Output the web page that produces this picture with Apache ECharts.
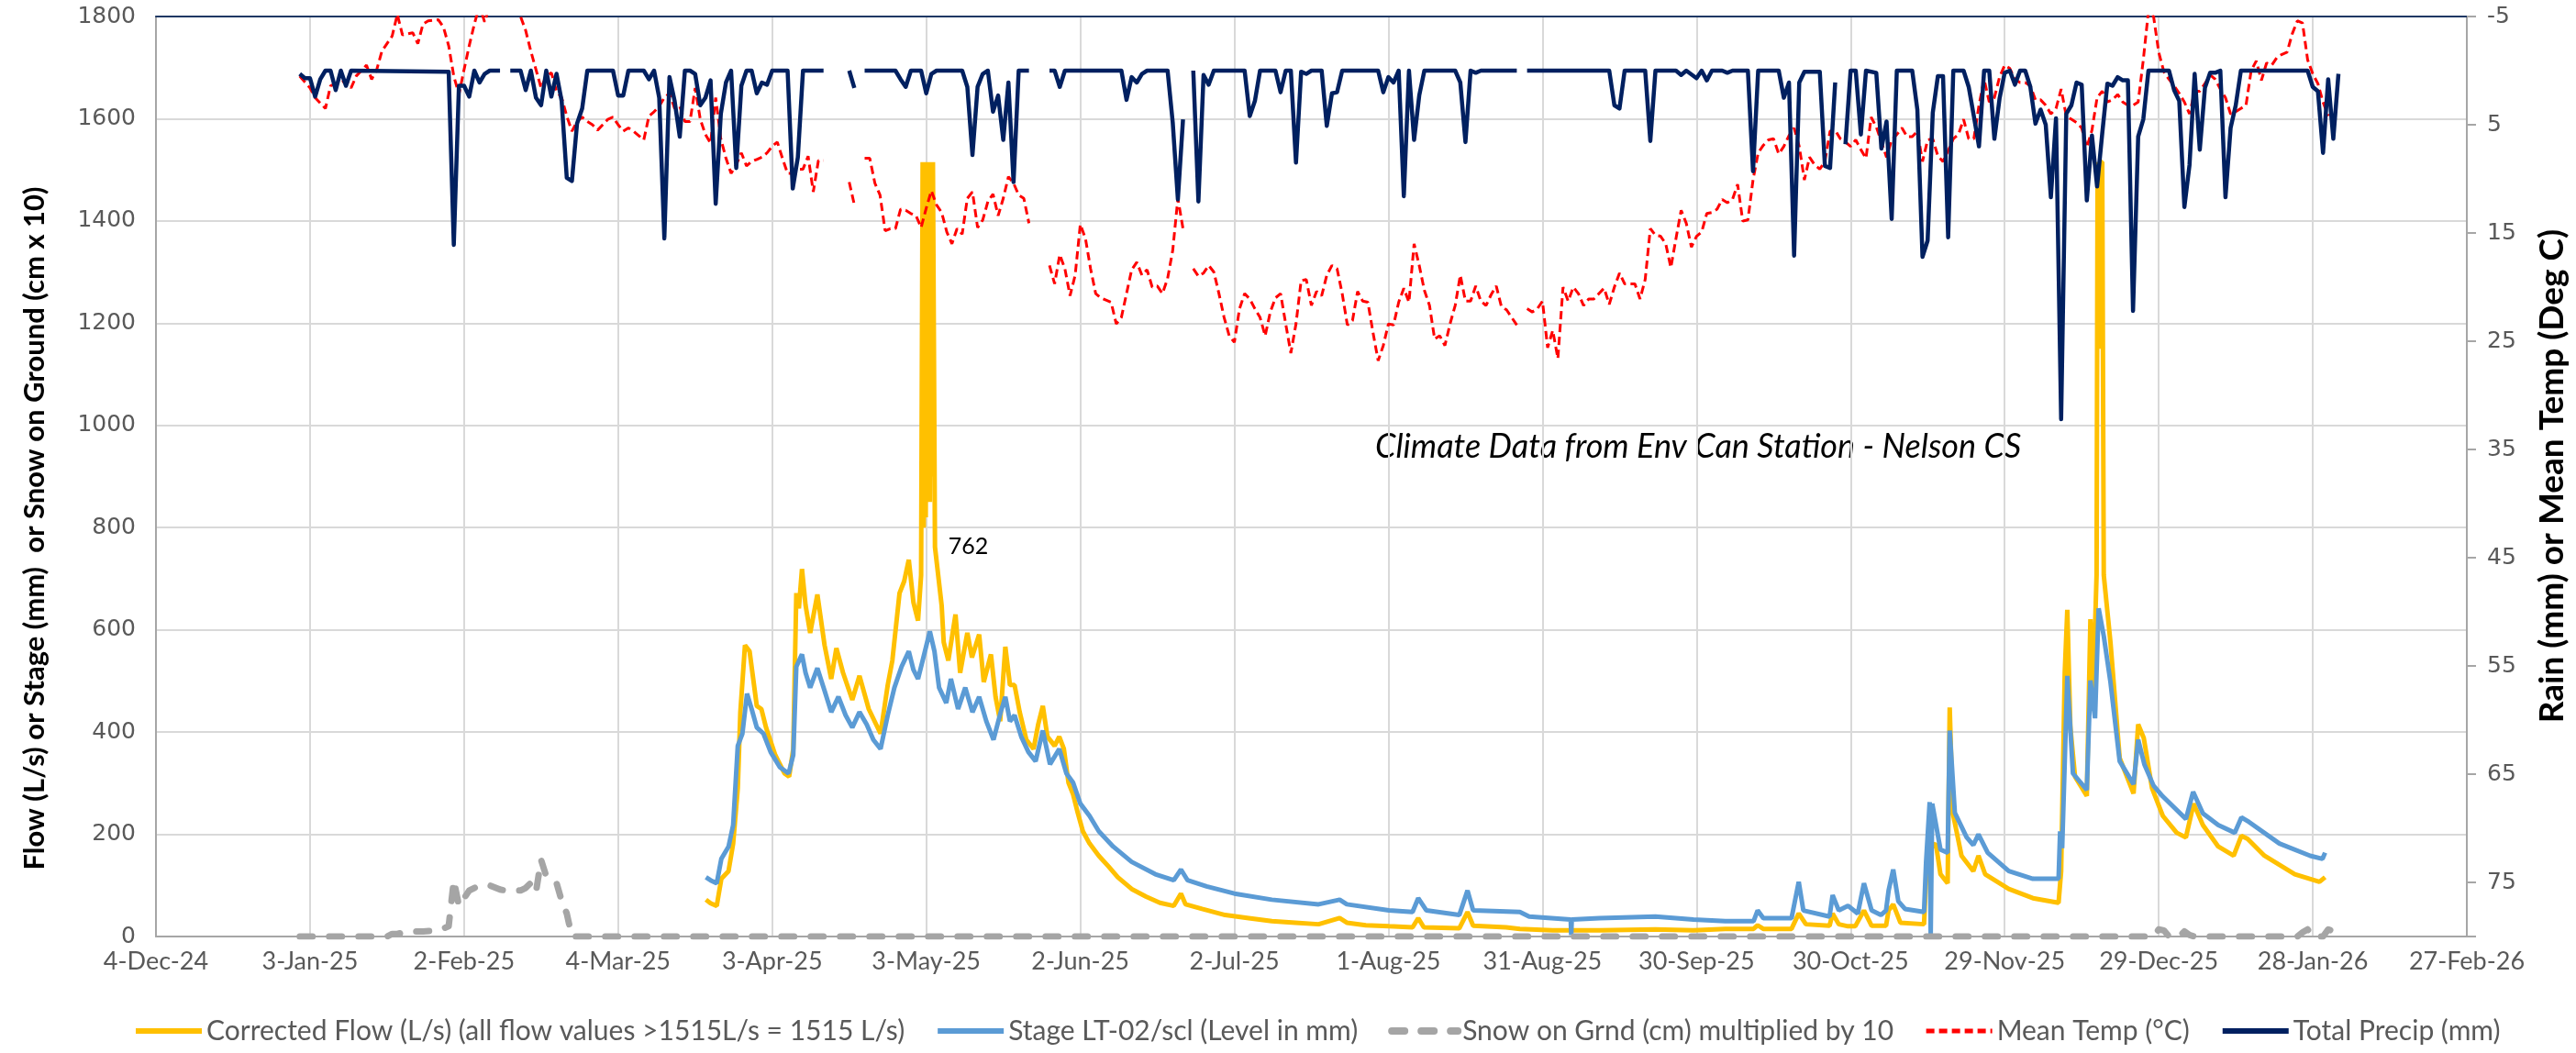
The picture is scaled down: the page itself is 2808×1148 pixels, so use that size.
<!DOCTYPE html>
<html>
<head>
<meta charset="utf-8">
<script src="https://cdn.jsdelivr.net/npm/echarts@6.0.0/dist/echarts.min.js"></script>
<style>
  html, body { margin: 0; padding: 0; background: #fff; }
  #chart { width: 2808px; height: 1148px; }
</style>
</head>
<body>
<div id="chart"></div>
<script>
// x values are days counted from 4-Dec-24
const startDate = Date.UTC(2024, 11, 4)
const monthNames = ['Jan', 'Feb', 'Mar', 'Apr', 'May', 'Jun', 'Jul', 'Aug', 'Sep', 'Oct', 'Nov', 'Dec']

const legendNames = [
  'Corrected Flow (L/s) (all flow values >1515L/s = 1515 L/s)',
  'Stage LT-02/scl (Level in mm)',
  'Snow on Grnd (cm) multiplied by 10',
  'Mean Temp (°C)',
  'Total Precip (mm)'
]

// [day, L/s]
const flow = [
  [107.1,72],[108,65],[109.2,60],[110.1,113],[111.5,128],[112.4,182],[113.3,290],[113.8,439],[114.7,570],[115.6,558],
  [117,451],[117.9,445],[118.8,409],[120.6,355],[122.4,319],[123.3,313],[124.1,367],[124.7,672],[125.2,642],[125.8,719],
  [126.5,648],[127.4,594],[128.8,669],[130.2,570],[131.5,504],[132.5,564],[133.8,516],[135.6,463],[137,510],[138.8,445],
  [141.1,397],[142.5,492],[143.4,540],[144.8,672],[145.7,695],[146.6,737],[147.5,654],[148.4,618],[149,707],
  [149.3,1515],[149.5,800],[149.7,1515],[149.9,820],[150.1,1515],[150.3,900],[150.5,1515],[150.7,850],[150.9,1515],
  [151.1,900],[151.3,1515],[151.5,1515],[151.7,762],
  [153,648],[153.4,576],[154.3,540],[155.7,630],[156.6,516],[158,594],[158.9,546],[160.3,591],[161.2,498],[162.6,552],
  [163.5,469],[164.4,421],[165.4,567],[166.3,492],[167.2,492],[168.2,439],[169.5,385],[170.9,367],[171.8,415],[172.7,451],
  [173.6,391],[175,373],[175.9,391],[176.8,367],[177.7,301],[178.6,278],[179.5,242],[180.5,206],[181.8,182],[183.6,158],
  [185.5,137],[187.3,116],[190,93],[192.8,78],[195.5,66],[198.2,60],[199.6,84],[200.5,63],[203.7,54],[208.2,42],
  [212.8,36],[217.3,30],[221.9,27],[226.4,24],[230.5,36],[231.9,27],[235.6,22],[240.1,20],[244.7,18],[245.8,36],
  [246.9,18],[253.8,16],[255.4,48],[256.5,21],[262.9,18],[265.6,15],[272,12],[281.1,12],[292,14],[299.4,12],
  [305.6,15],[311.1,15],[311.9,22],[313,15],[318.5,15],[319.9,45],[321.3,24],[325.9,21],[326.5,45],[327.7,24],
  [329.5,20],[330.9,20],[332.6,51],[334.1,21],[336.9,21],[337.4,51],[338.3,63],[339.7,27],[344.3,24],[344.7,110],
  [345.4,170],[346.6,182],[347.5,122],[348.9,104],[349.3,448],[349.9,242],[351.6,158],[353.9,128],[354.9,158],[356.2,122],
  [360.8,93],[365.5,75],[370.5,66],[371,128],[371.7,516],[372.2,639],[372.8,409],[373.7,313],[376,275],[376.7,621],
  [377.2,469],[377.9,707],[378.1,1515],[378.4,1150],[378.6,1515],[379,1515],[379.3,707],
  [380.6,576],[382.4,349],[385.1,280],[386,415],[387.1,388],[388.7,290],[390.8,236],[393.5,203],[395.3,194],[396.8,260],
  [398.6,218],[401.6,176],[404.6,158],[406.1,197],[407.3,191],[410.6,158],[416.5,122],[421.3,107],[422.4,116]
]

// [day, mm]
const stage = [
  [107.1,116],[108,110],[109.2,104],[110.1,152],[111.5,176],[112.4,218],[113.3,373],[114.2,397],[115.1,475],[116,445],
  [117,409],[118.3,397],[119.7,361],[121.5,331],[123.2,319],[124.1,355],[124.7,528],[125.8,552],[126.5,516],[127.4,487],
  [128.8,525],[130.2,481],[131.5,439],[132.9,469],[134.3,433],[135.6,409],[137,439],[138.4,415],[139.7,385],[141.1,367],
  [142.5,433],[143.8,487],[145.2,528],[146.6,558],[147.5,522],[148.4,504],[149.3,540],[150.7,597],[151.6,558],[152.5,487],
  [153.9,457],[154.8,504],[156.2,445],[157.6,487],[159,439],[160.3,469],[161.7,421],[163.1,385],[164.5,439],[165.4,469],
  [166.3,421],[167.2,433],[168.5,391],[169.9,361],[171.3,343],[172.7,403],[174.1,337],[175.9,367],[177.3,319],[178.6,301],
  [180,260],[181.8,236],[183.6,206],[186.4,176],[190,146],[194.6,122],[198.2,110],[199.6,131],[200.9,110],[204.6,98],
  [210,84],[217.3,72],[226.4,63],[230.5,72],[231.9,63],[240.1,51],[244.7,48],[245.8,75],[247.4,51],[253.8,42],
  [255.4,90],[256.5,51],[265.6,48],[267.4,39],[275.5,33],[275.6,3],[275.7,33],[281.1,36],[292,39],[299.4,33],
  [305.6,30],[311.1,30],[311.9,51],[313,36],[318.5,36],[319.9,107],[320.8,51],[325.9,39],[326.5,81],[327.7,51],
  [329.5,60],[331.4,45],[332.6,104],[334.1,51],[335.9,42],[336.9,51],[337.4,90],[338.3,131],[339.3,69],[340.6,54],
  [344.3,48],[344.7,146],[345.4,263],[345.6,5],[345.9,260],[347.5,170],[348.9,164],[349.3,403],[350.3,242],[352.6,194],
  [353.9,179],[354.9,200],[356.7,164],[360.8,128],[365.5,113],[370.5,113],[370.8,206],[371.2,173],[372.2,510],[373.3,319],
  [376,287],[376.7,501],[377.6,427],[378.3,642],[379.3,588],[380.6,498],[382.4,343],[385.1,298],[386,385],[387.2,337],
  [389,295],[390.8,274],[395.3,230],[396.7,283],[398.6,241],[401.6,218],[404.8,203],[406.1,233],[407.6,224],[413.5,182],
  [419.5,158],[421.9,152],[422.4,164]
]

// [day, cm x 10]
const snow = [
  [28,0],[45,0],[46,5],[47,5],[49,10],[52,10],[55,12],[57,20],[58,110],[59,60],[60,75],[61,90],[62,95],[63,100],
  [65,100],[67,92],[68,90],[71,90],[72,95],[73,105],[74,87],[75,150],[76,118],[77,112],[78,105],[79,70],[80,45],[81,0],
  [389,0],[390,14],[391,12],[392,0],[394,0],[395,10],[396,3],[397,0],[417,0],[418,8],[419,14],[420,0],[422,0],
  [423,14],[424,10],[425,0]
]

// [day, deg C]
const meanTemp = [
  [28,0.5],[30,1.6],[31,2.5],[33,3.5],[34,1.4],[35,1.2],[36,1.1],[37,0.9],[38,1.6],[39,0.5],[41,-0.5],[42,0.8],[43,-0.1],
  [44,-1.8],[46,-3.2],[47,-5.2],[48,-3.3],[50,-3.5],[51,-2.5],[52,-4.3],[53,-4.6],[55,-4.7],[56,-4],[57,-2.3],[58,0.5],
  [59,2.2],[60,-0.1],[61,-2.3],[62,-4.3],[63,-6],[64,-4.5],[65,-6],[66,-8],[67,-10],[68,-9],[69,-7.5],[70,-6],[71,-5],
  [72,-3.7],[73,-1.8],[74,-0.1],[75,1.6],[76,0.5],[77,0.2],[78,1.9],[79,2.5],[80,4.2],[81,5.6],[82,4.7],[83,4.3],[84,4.7],
  [85,5.0],[86,5.5],[87,5],[88,4.5],[89,4.3],[90,5.0],[91,5.6],[92,5.3],[93,5.6],[94,6.0],[95,6.4],[96,4.2],[97,3.8],
  [98,3.3],[99,2.5],[100,2.1],[101,3.5],[102,3.3],[103,4.7],[104,4.7],[105,1.6],[106,4.5],[107,5.9],[108,6.7],[109,2.5],
  [110,6.3],[111,8.1],[112,9.5],[113,8.7],[114,7.6],[115,8.8],[116,8.4],[117,8.2],[118,8.0],[119,7.6],[120,7.0],[121,6.6],
  [122,8.1],[123,9.5],[124,9.5],[125,9.1],[126,9.1],[127,7.9],[128,11.2],[129,8.3],[130,8.3],[131,null],[135,10.3],[136,12.4],
  [137,null],[138,8.1],[139,8.1],[140,10.4],[141,11.5],[142,14.8],[143,14.6],[144,14.6],[145,12.8],[146,12.9],[147,13.2],
  [148,13.4],[149,14.5],[150,12.7],[151,11.1],[152,12.4],[153,13.1],[154,14.9],[155,16],[156,14.6],[157,15.1],[158,11.8],
  [159,11.2],[160,14.5],[161,13.8],[162,12.1],[163,11.4],[164,13.4],[165,11.8],[166,9.8],[167,10.4],[168,11.5],[169,11.8],
  [170,14.1],[171,null],[174,18.0],[175,19.7],[176,17.0],[177,18.3],[178,20.8],[179,18.9],[180,14.2],[181,15.5],[182,18.3],
  [183,20.6],[184,21],[185,21.2],[186,21.4],[187,23.4],[188,22.8],[189,20.6],[190,18.4],[191,17.7],[192,18.9],[193,18.4],
  [194,20],[195,19.9],[196,20.6],[197,19.2],[198,16.6],[199,11.8],[200,14.6],[201,null],[202,18.3],[203,19.0],[204,18.7],
  [205,18],[206,18.6],[207,20.6],[208,22.8],[209,24.5],[210,25.1],[211,22],[212,20.6],[213,21.1],[214,22],[215,22.8],
  [216,24.5],[217,22.3],[218,21],[219,20.6],[220,23.4],[221,26.1],[222,23.4],[223,19.4],[224,19.3],[225,21.7],[226,20.4],
  [227,20.8],[228,18.9],[229,18],[230,18.3],[231,20.6],[232,23.5],[233,23.1],[234,20.4],[235,21.3],[236,21.4],[237,24.2],
  [238,26.8],[239,25.4],[240,23.4],[241,23.5],[242,21.4],[243,20.1],[244,21.4],[245,16],[246,18],[247,20.3],[248,21.7],
  [249,24.8],[250,24.5],[251,25.4],[252,23.4],[253,21.7],[254,18.9],[255,21.3],[256,21.3],[257,19.9],[258,21.3],[259,21.7],
  [260,20.7],[261,19.9],[262,21.8],[263,22.1],[264,22.8],[265,23.5],[266,null],[267,22],[268,22.3],[269,22],[270,21.3],
  [271,25.6],[272,24],[273,26.6],[274,20],[275,21.3],[276,20],[277,20.6],[278,21.7],[279,21.1],[280,21.1],[281,20.6],
  [282,20.1],[283,21.6],[284,20],[285,18.7],[286,19.7],[287,19.7],[288,19.7],[289,21.1],[290,19.3],[291,14.6],[292,15.2],
  [293,15.3],[294,16],[295,18.2],[296,15.5],[297,12.9],[298,14.1],[299,16.3],[300,15.3],[301,14.9],[302,13.2],[303,13.1],
  [304,12.8],[305,11.9],[306,12.2],[307,11.9],[308,10.5],[309,13.9],[310,13.8],[311,10.1],[312,7.6],[313,6.9],[314,6.4],
  [315,6.3],[316,7.7],[317,7],[318,6],[319,5.3],[320,7],[321,10.1],[322,8],[323,8.7],[324,9.1],[325,8.4],[326,5.6],
  [327,5.5],[328,6.3],[329,6.6],[330,7],[331,6.4],[332,7.3],[333,8.1],[334,4.3],[335,5.2],[336,6.6],[337,8],[338,6.4],
  [339,5.9],[340,5.3],[341,6.1],[342,6.1],[343,5.6],[344,8.4],[345,6.4],[346,6.3],[347,7.9],[348,8.4],[349,7.4],[350,6.3],
  [351,5.9],[352,4.5],[353,6.3],[354,6.3],[355,3.2],[356,0.8],[357,2.9],[358,2.5],[359,0.6],[360,-0.5],[361,-0.2],
  [362,0.8],[363,1.1],[364,1.1],[365,1.4],[366,2.7],[367,2.7],[368,3.2],[369,4],[370,3.5],[371,1.7],[372,4.2],[373,4.5],
  [374,4.8],[375,5.3],[376,7.1],[377,5.5],[378,2.5],[379,1.9],[380,2.9],[381,2.7],[382,2.2],[383,2.9],[384,3.2],[385,3.2],
  [386,2.9],[387,-1],[388,-5.5],[389,-5],[390,-1.7],[391,0.1],[392,0.8],[393,1.4],[394,2.1],[395,2.9],[396,4],[397,1.9],
  [398,1.9],[399,1.2],[400,0.4],[401,0.8],[402,1.7],[403,2.5],[404,4],[405,3.8],[406,3.5],[407,3.2],[408,0],[409,-0.9],
  [410,0.9],[411,-0.7],[412,-0.5],[413,-1.2],[414,-1.5],[415,-1.7],[416,-3.4],[417,-4.6],[418,-4.4],[419,-1],[420,0.3],
  [421,1.2],[422,2.9],[423,4.2]
]

// [day, mm]
const totalPrecip = [
  [28,0.3],[29,0.7],[30,0.7],[31,2.4],[32,0.8],[33,0],[34,0],[35,1.8],[36,0],[37,1.4],[38,0],[57,0.1],[58,16.1],[59,1.4],
  [60,1.4],[61,2.4],[62,0],[63,1.1],[64,0.3],[65,0],[67,0],[68,null],[69,0],[71,0],[72,1.8],[73,0],[74,2.5],[75,3.2],
  [76,0],[77,2.4],[78,0.3],[79,2.8],[80,9.9],[81,10.2],[82,4.9],[83,3.5],[84,0],[89,0],[90,2.3],[91,2.3],[92,0],[95,0],
  [96,0.8],[97,0],[98,2.5],[99,15.5],[100,0.6],[101,2.8],[102,6.1],[103,0],[104,0],[105,0.3],[106,3.2],[107,2.5],[108,0.9],
  [109,12.3],[110,4.0],[111,1.1],[112,0],[113,9.0],[114,1.4],[115,0],[116,0],[117,2.1],[118,1.1],[119,1.3],[120,0],
  [123,0],[124,10.9],[125,8],[126,0],[130,0],[131,null],[135,0],[136,1.6],[137,null],[138,0],[144,0],[145,0.8],[146,1.5],
  [147,0],[149,0],[150,2.1],[151,0.3],[152,0],[157,0],[158,1.5],[159,7.8],[160,1.5],[161,0.3],[162,0],[163,3.8],[164,2.3],
  [165,6.4],[166,1.1],[167,10.3],[168,0],[170,0],[171,null],[174,0],[175,0],[176,1.5],[177,0],[188,0],[189,2.7],[190,0.6],
  [191,1.1],[192,0.3],[193,0],[197,0],[198,4.8],[199,11.9],[200,4.5],[201,null],[202,0],[203,12.1],[204,0.4],[205,1.3],
  [206,0],[212,0],[213,4.2],[214,2.8],[215,0],[218,0],[219,2],[220,0],[221,0],[222,8.5],[223,0.1],[224,0.3],[225,0],
  [227,0],[228,5.1],[229,2.1],[230,2.0],[231,0],[238,0],[239,2.0],[240,0.6],[241,1.1],[242,0],[243,11.6],[244,0],[245,6.4],
  [246,2.3],[247,0],[253,0],[254,1.1],[255,6.6],[256,0],[257,0.2],[258,0],[265,0],[266,null],[267,0],[283,0],[284,3.2],
  [285,3.5],[286,0],[290,0],[291,6.5],[292,0],[296,0],[297,0.4],[298,0],[300,0.7],[301,0],[302,0.9],[303,0],[305,0],
  [306,0.2],[307,0],[310,0],[311,9.3],[312,0],[316,0],[317,2.5],[318,1.1],[319,17.1],[320,1.1],[321,0.1],[324,0.1],
  [325,8.8],[326,9.0],[327,1.1],[328,null],[329,6.8],[330,0],[331,0],[332,5.9],[333,0],[335,0.2],[336,7.2],[337,4.7],
  [338,13.7],[339,0],[342,0],[343,3.6],[344,17.2],[345,15.7],[346,3.9],[347,0.5],[348,0.5],[349,15.4],[350,0],[352,0],
  [353,1.5],[354,4.2],[355,7],[356,0],[357,0],[358,6.3],[359,2.6],[360,0.2],[361,0],[362,1.3],[363,0],[364,0],[365,1.5],
  [366,4.9],[367,3.6],[368,5],[369,11.7],[370,4.4],[371,32.2],[372,4],[373,3.2],[374,1.1],[375,1.3],[376,12],[377,6],
  [378,10.7],[379,5.8],[380,1.2],[381,1.4],[382,0.6],[383,0.9],[384,0.9],[385,22.2],[386,6.1],[387,4.5],[388,0],[392,0],
  [393,1.8],[394,2.8],[395,12.6],[396,8.7],[397,0.3],[398,7.3],[399,1.6],[400,0.2],[401,0.2],[402,0],[403,11.7],[404,5.3],
  [405,3.2],[406,0],[419,0],[420,1.5],[421,1.9],[422,7.6],[423,0.8],[424,6.3],[425,0.3]
]

const labelledFlow = [151.7, 762]

const textFont = 'Lato, "Open Sans", sans-serif'
const tickFont = '"DejaVu Sans", Verdana, sans-serif'
const gridColor = '#D9D9D9'
const axisColor = '#A6A6A6'
const labelColor = '#595959'
const legendLineWidths = [6, 6, 8, 5, 6]

function dayLabel(day) {
  const d = new Date(startDate + day * 86400000)
  return d.getUTCDate() + '-' + monthNames[d.getUTCMonth()] + '-' + String(d.getUTCFullYear()).slice(2)
}

const chart = echarts.init(document.getElementById('chart'))

chart.setOption({
  animation: false,
  backgroundColor: '#fff',
  grid: { left: 170, right: 119, top: 18, bottom: 127 },
  xAxis: [
    {
      type: 'value', min: 0, max: 450, interval: 30,
      axisLine: { onZero: false, lineStyle: { color: axisColor, width: 2 } },
      axisTick: { show: false },
      splitLine: { show: true, lineStyle: { color: gridColor, width: 2 } },
      axisLabel: {
        formatter: dayLabel, margin: 14,
        fontFamily: textFont, fontSize: 27, color: labelColor
      }
    },
    {
      type: 'value', min: 0, max: 450, position: 'top',
      axisLine: { show: true, onZero: false, lineStyle: { color: '#1F3864', width: 2 } },
      axisTick: { show: false }, axisLabel: { show: false }, splitLine: { show: false }
    }
  ],
  yAxis: [
    {
      type: 'value', min: 0, max: 1800, interval: 200, position: 'left',
      axisLine: { show: true, onZero: false, lineStyle: { color: axisColor, width: 2 } },
      axisTick: { show: false },
      splitLine: { show: true, lineStyle: { color: gridColor, width: 2 } },
      axisLabel: { fontFamily: tickFont, fontSize: 25, color: labelColor, margin: 22, formatter: (v) => String(v) }
    },
    {
      type: 'value', min: -5, max: 80, interval: 10, position: 'right', inverse: true,
      axisLine: { show: true, onZero: false, lineStyle: { color: axisColor, width: 2 } },
      axisTick: { show: true, length: 10, lineStyle: { color: axisColor, width: 2 } },
      splitLine: { show: false },
      axisLabel: {
        fontFamily: tickFont, fontSize: 25, color: labelColor, margin: 22,
        formatter: (v) => (v === 80 ? '' : String(v))
      }
    }
  ],
  legend: {
    bottom: 4, left: 140, itemGap: 33, itemWidth: 72, itemHeight: 16,
    itemStyle: { opacity: 0 },
    textStyle: { fontFamily: textFont, fontSize: 30, color: labelColor },
    data: legendNames.map((name, i) => ({ name, lineStyle: { width: legendLineWidths[i] } }))
  },
  graphic: [
    {
      type: 'text', x: 38, y: 576, rotation: Math.PI / 2,
      style: {
        text: 'Flow (L/s) or Stage (mm)  or Snow on Ground (cm x 10)',
        font: 'bold 31px ' + textFont, fill: '#000', align: 'center', verticalAlign: 'middle'
      }
    },
    {
      type: 'text', x: 2782, y: 519, rotation: Math.PI / 2,
      style: {
        text: 'Rain (mm) or Mean Temp (Deg C)',
        font: 'bold 37px ' + textFont, fill: '#000', align: 'center', verticalAlign: 'middle'
      }
    },
    {
      type: 'text', x: 1499, y: 487,
      style: {
        text: 'Climate Data from Env Can Station - Nelson CS',
        font: 'italic 36px ' + textFont, fill: '#000', verticalAlign: 'middle'
      }
    }
  ],
  series: [
    {
      name: legendNames[0], type: 'line', xAxisIndex: 0, yAxisIndex: 0,
      data: flow, showSymbol: false, symbol: 'none',
      lineStyle: { color: '#FFC000', width: 5 }, itemStyle: { color: '#FFC000' },
      markPoint: {
        symbol: 'circle', symbolSize: 1, itemStyle: { color: 'rgba(0,0,0,0)' },
        label: { show: true, position: 'right', distance: 14, formatter: String(labelledFlow[1]),
          fontFamily: textFont, fontSize: 25, color: '#000' },
        data: [{ coord: labelledFlow }]
      }
    },
    {
      name: legendNames[1], type: 'line', xAxisIndex: 0, yAxisIndex: 0,
      data: stage, showSymbol: false, symbol: 'none',
      lineStyle: { color: '#5B9BD5', width: 5 }, itemStyle: { color: '#5B9BD5' }
    },
    {
      name: legendNames[2], type: 'line', xAxisIndex: 0, yAxisIndex: 0,
      data: snow, showSymbol: false, symbol: 'none',
      lineStyle: { color: '#A5A5A5', width: 7, type: [14, 18], cap: 'round', join: 'round' },
      itemStyle: { color: '#A5A5A5' }
    },
    {
      name: legendNames[3], type: 'line', xAxisIndex: 0, yAxisIndex: 1,
      data: meanTemp, showSymbol: false, symbol: 'none',
      lineStyle: { color: '#FF0000', width: 3, type: [9, 5] }, itemStyle: { color: '#FF0000' }
    },
    {
      name: legendNames[4], type: 'line', xAxisIndex: 0, yAxisIndex: 1,
      data: totalPrecip, showSymbol: false, symbol: 'none',
      lineStyle: { color: '#002060', width: 4.5, join: 'round' }, itemStyle: { color: '#002060' }
    }
  ]
})
</script>
</body>
</html>
